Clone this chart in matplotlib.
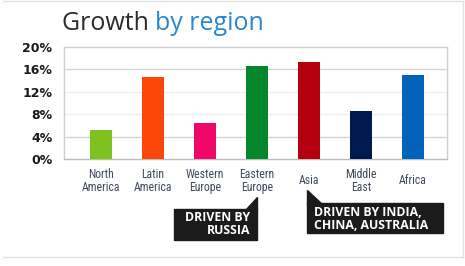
import matplotlib
matplotlib.use("Agg")
import matplotlib.pyplot as plt
from matplotlib.patches import Polygon
from matplotlib.lines import Line2D
import logging
logging.getLogger("matplotlib.font_manager").setLevel(logging.ERROR)

# ---- data ----
regions = ["North\nAmerica", "Latin\nAmerica", "Western\nEurope", "Eastern\nEurope",
           "Asia", "Middle\nEast", "Africa"]
growth = [5.2, 14.6, 6.5, 16.6, 17.3, 8.6, 15.0]
bar_colors = ["#7dc21e", "#fc4508", "#f0076a", "#04862c", "#b5000f", "#001a4f", "#0062b8"]
yticks = [0, 4, 8, 12, 16, 20]
ytick_labels = ["0%", "4%", "8%", "12%", "16%", "20%"]
title_a = "Growth"
title_b = "by region"
callout_1 = "DRIVEN BY\nRUSSIA"
callout_2 = "DRIVEN BY INDIA,\nCHINA, AUSTRALIA"

TITLE_FONT = ["Open Sans", "DejaVu Sans"]
TICK_FONT = ["DejaVu Sans"]
LABEL_FONT = ["Roboto Condensed", "Open Sans Condensed", "Liberation Sans Narrow", "DejaVu Sans"]
BOX_FONT = ["Open Sans", "DejaVu Sans"]

W, H = 465, 266
fig = plt.figure(figsize=(W / 100, H / 100), dpi=100)
fig.patch.set_facecolor("white")

def fx(x):
    return x / W

def fy(y):
    return 1 - y / H

# axes placement (pixels: left 64, right 447, top 47, bottom 159)
ax = fig.add_axes([fx(64), fy(159), (447 - 64) / W, (159 - 47) / H])
x = list(range(len(regions)))
ax.bar(x, growth, width=0.43, color=bar_colors, zorder=3)
ax.set_xlim(-0.71, 6.65)
ax.set_ylim(0, 20)

# gridlines
for v in yticks[1:-1]:
    col = "#d4d4d4" if v in (4, 16) else "#efefef"
    ax.axhline(v, color=col, lw=1.0, zorder=1)
for s in ["left", "right", "top"]:
    ax.spines[s].set_color("#d0d0d0")
    ax.spines[s].set_linewidth(1.0)
ax.spines["bottom"].set_color("#bdbdbd")
ax.spines["bottom"].set_linewidth(1.0)

ax.set_yticks(yticks)
ax.set_yticklabels(ytick_labels, fontsize=9, fontweight="bold",
                   family=TICK_FONT, color="#1a1a1a")
ax.tick_params(axis="y", length=0, pad=8.5)

ax.set_xticks(x)
ax.set_xticklabels(regions, fontsize=8.5, family=LABEL_FONT,
                   color="#3f4a5e", linespacing=1.0)
ax.tick_params(axis="x", length=0, pad=15.5)
for lbl in ax.get_xticklabels():
    lbl.set_va("center")

# title with two colours
fig.canvas.draw()
r = fig.canvas.get_renderer()
t1 = fig.text(fx(62), fy(29.5), title_a + " ", fontsize=18, family=TITLE_FONT,
              color="#2b2b2b", ha="left", va="baseline")
bb = t1.get_window_extent(renderer=r)
fig.text(bb.x1 / W, fy(29.5), title_b, fontsize=18, family=TITLE_FONT,
         color="#2b86d2", ha="left", va="baseline")

# callouts
box_col = "#1b1b1b"
def px_poly(pts):
    return [(fx(a), fy(b)) for a, b in pts]

fig.patches.append(Polygon(px_poly([(174, 209), (257, 209), (257, 240), (174, 240)]),
                           closed=True, transform=fig.transFigure, color=box_col))
fig.patches.append(Polygon(px_poly([(257, 197), (257, 210), (245, 210)]),
                           closed=True, transform=fig.transFigure, color=box_col))
fig.text(fx(250), fy(224), callout_1, fontsize=8.8, fontweight="bold",
         family=BOX_FONT, color="white", ha="right", va="center",
         multialignment="right", linespacing=0.95)

fig.patches.append(Polygon(px_poly([(307, 203), (443, 203), (443, 233), (307, 233)]),
                           closed=True, transform=fig.transFigure, color=box_col))
fig.patches.append(Polygon(px_poly([(307, 190), (307, 204), (322, 204)]),
                           closed=True, transform=fig.transFigure, color=box_col))
fig.text(fx(313.5), fy(219), callout_2, fontsize=8.8, fontweight="bold",
         family=BOX_FONT, color="white", ha="left", va="center",
         multialignment="left", linespacing=0.95)

# light frame around the picture
frame_col = "#e2e2e2"
fig.lines.append(Line2D([fx(3), fx(463)], [fy(1), fy(1)], transform=fig.transFigure, color=frame_col, lw=1))
fig.lines.append(Line2D([fx(463), fx(463)], [fy(1), fy(257)], transform=fig.transFigure, color=frame_col, lw=1))
fig.lines.append(Line2D([fx(3), fx(463)], [fy(257), fy(257)], transform=fig.transFigure, color=frame_col, lw=1))

fig.savefig("out.png", dpi=100, facecolor="white")
